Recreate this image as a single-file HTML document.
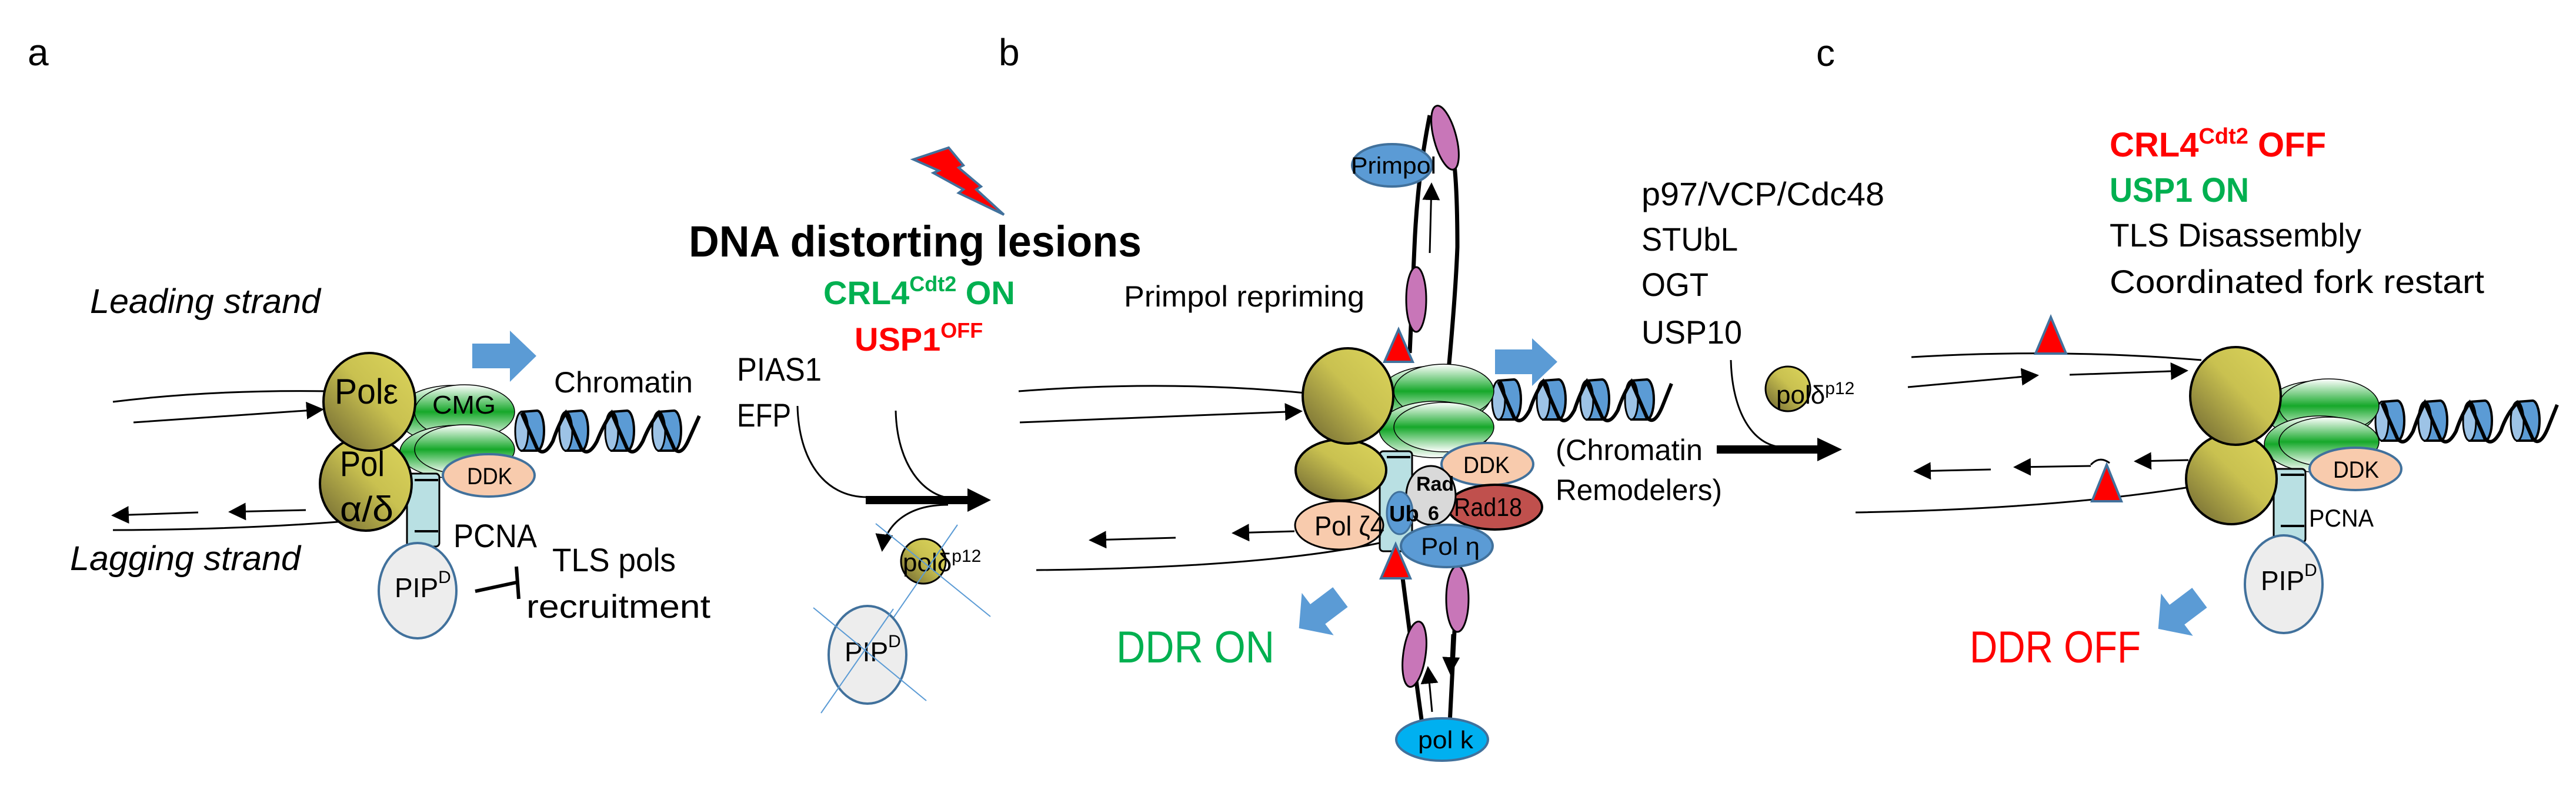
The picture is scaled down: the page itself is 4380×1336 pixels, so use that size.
<!DOCTYPE html>
<html><head><meta charset="utf-8"><style>html,body{margin:0;padding:0;background:#fff}svg{display:block}</style></head>
<body>
<svg xmlns="http://www.w3.org/2000/svg" width="4380" height="1336" viewBox="0 0 4380 1336" font-family="'Liberation Sans', sans-serif">
<defs>
<linearGradient id="ol" x1="1" y1="0" x2="0" y2="1"><stop offset="0" stop-color="#dcd55c"/><stop offset="0.45" stop-color="#c9c150"/><stop offset="1" stop-color="#6a6230"/></linearGradient>
<linearGradient id="gr" x1="0" y1="0" x2="0" y2="1"><stop offset="0" stop-color="#ffffff"/><stop offset="0.5" stop-color="#16a82a"/><stop offset="1" stop-color="#ffffff"/></linearGradient>
<marker id="ah" markerWidth="8" markerHeight="8" refX="7" refY="4" orient="auto" markerUnits="userSpaceOnUse" viewBox="0 0 8 8"><path d="M0,0 L8,4 L0,8 Z" fill="#000"/></marker>
<marker id="ahb" viewBox="0 0 10 10" refX="9" refY="5" markerWidth="30" markerHeight="30" orient="auto" markerUnits="userSpaceOnUse"><path d="M0,0 L10,5 L0,10 Z" fill="#000"/></marker>
<g id="cyl">
<path d="M-12,-33 L14,-35 A12 34 0 0 1 14,33 L-12,33 Z" fill="#5b9bd5" stroke="#000" stroke-width="4"/>
<ellipse cx="-12" cy="0" rx="11" ry="33" fill="#9dc3e6" stroke="#000" stroke-width="3"/>
</g>
<g id="bar"><path d="M-40,-21 L8,-21 L8,-45 L48,0 L8,45 L8,21 L-40,21 Z" fill="#5b9bd5"/></g>
</defs>

<!-- ============ PANEL A ============ -->
<text x="47" y="111" font-size="64">a</text>
<text x="153" y="532" font-size="58" font-style="italic" textLength="392" lengthAdjust="spacingAndGlyphs">Leading strand</text>
<text x="119" y="969" font-size="58" font-style="italic" textLength="392" lengthAdjust="spacingAndGlyphs">Lagging strand</text>
<!-- strands -->
<path d="M192,683 Q360,662 560,665" fill="none" stroke="#000" stroke-width="3"/>
<path d="M227,718 L548,696" fill="none" stroke="#000" stroke-width="3" marker-end="url(#ahb)"/>
<path d="M337,871 L192,876" fill="none" stroke="#000" stroke-width="3" marker-end="url(#ahb)"/>
<path d="M520,867 L391,870" fill="none" stroke="#000" stroke-width="3" marker-end="url(#ahb)"/>
<path d="M192,901 Q420,900 600,885" fill="none" stroke="#000" stroke-width="3"/>
<!-- helix a -->
<use href="#cyl" x="899" y="733"/><use href="#cyl" x="974" y="733"/><use href="#cyl" x="1052" y="733"/><use href="#cyl" x="1132" y="733"/>
<path d="M887,702 L913,762 Q925,778 940,750 Q950,720 962,702 L988,762 Q1000,778 1015,750 Q1027,720 1040,702 L1066,762 Q1078,778 1093,750 Q1105,720 1120,702 L1146,762 Q1158,778 1172,745 L1189,707" fill="none" stroke="#000" stroke-width="6"/>
<!-- blue arrow -->
<path d="M803,584 L867,584 L867,562 L912,605 L867,649 L867,626 L803,626 Z" fill="#5b9bd5"/>
<text x="942" y="667" font-size="50" textLength="236" lengthAdjust="spacingAndGlyphs">Chromatin</text>
<!-- CMG -->
<ellipse cx="770" cy="705" rx="95" ry="50" fill="url(#gr)" stroke="#000" stroke-width="1.5"/>
<ellipse cx="790" cy="700" rx="85" ry="46" fill="url(#gr)" stroke="#000" stroke-width="1.5"/>
<ellipse cx="775" cy="768" rx="95" ry="45" fill="url(#gr)" stroke="#000" stroke-width="1.5"/>
<ellipse cx="790" cy="764" rx="85" ry="42" fill="url(#gr)" stroke="#000" stroke-width="1.5"/>
<text x="735" y="703" font-size="44" textLength="108" lengthAdjust="spacingAndGlyphs">CMG</text>
<!-- PCNA -->
<rect x="692" y="805" width="55" height="124" rx="6" fill="#b9e0e3" stroke="#000" stroke-width="3"/>
<line x1="705" y1="816" x2="745" y2="816" stroke="#000" stroke-width="4"/>
<line x1="705" y1="903" x2="745" y2="903" stroke="#000" stroke-width="4"/>
<!-- Pols -->
<ellipse cx="622" cy="822" rx="78" ry="80" fill="url(#ol)" stroke="#000" stroke-width="4"/>
<ellipse cx="628" cy="683" rx="78" ry="83" fill="url(#ol)" stroke="#000" stroke-width="4"/>
<text x="569" y="686" font-size="60" textLength="108" lengthAdjust="spacingAndGlyphs">Polε</text>
<text x="578" y="809" font-size="60" textLength="76" lengthAdjust="spacingAndGlyphs">Pol</text>
<text x="578" y="886" font-size="60" textLength="91" lengthAdjust="spacingAndGlyphs">α/δ</text>
<ellipse cx="831" cy="808" rx="78" ry="36" fill="#f8cbad" stroke="#41719c" stroke-width="4"/>
<text x="794" y="823" font-size="40" textLength="77" lengthAdjust="spacingAndGlyphs">DDK</text>
<ellipse cx="710" cy="1004" rx="66" ry="81" fill="#ededed" stroke="#41719c" stroke-width="4"/>
<text x="671" y="1015" font-size="46">PIP<tspan font-size="30" dy="-24">D</tspan></text>
<text x="771" y="930" font-size="56" textLength="142" lengthAdjust="spacingAndGlyphs">PCNA</text>
<text x="939" y="971" font-size="56" textLength="210" lengthAdjust="spacingAndGlyphs">TLS pols</text>
<text x="895" y="1050" font-size="56" textLength="313" lengthAdjust="spacingAndGlyphs">recruitment</text>
<path d="M808,1005 L878,990" stroke="#000" stroke-width="6"/>
<path d="M878,963 L882,1018" stroke="#000" stroke-width="6"/>

<!-- ============ PANEL B ============ -->
<text x="1698" y="111" font-size="64">b</text>
<path d="M1553,271 L1613,251 L1638,281 L1630,285 L1668,317 L1660,322 L1707,365 L1630,328 L1638,322 L1587,294 L1596,290 Z" fill="#ff0000" stroke="#41719c" stroke-width="4"/>
<text x="1171" y="436" font-size="74" font-weight="bold" textLength="770" lengthAdjust="spacingAndGlyphs">DNA distorting lesions</text>
<text x="1400" y="517" font-size="56" font-weight="bold" fill="#00b050">CRL4<tspan font-size="36" dy="-22">Cdt2</tspan><tspan dy="22"> ON</tspan></text>
<text x="1453" y="596" font-size="56" font-weight="bold" fill="#ff0000">USP1<tspan font-size="36" dy="-22">OFF</tspan></text>
<text x="1253" y="647" font-size="56" textLength="144" lengthAdjust="spacingAndGlyphs">PIAS1</text>
<text x="1253" y="725" font-size="56" textLength="92" lengthAdjust="spacingAndGlyphs">EFP</text>
<path d="M1356,690 C1358,780 1400,845 1475,845" fill="none" stroke="#000" stroke-width="3"/>
<path d="M1523,698 C1525,790 1570,840 1612,846" fill="none" stroke="#000" stroke-width="3"/>
<path d="M1472,843 L1645,843 L1645,830 L1685,850 L1645,870 L1645,857 L1472,857 Z" fill="#000"/>
<path d="M1612,858 C1540,858 1505,895 1500,935" fill="none" stroke="#000" stroke-width="3" marker-end="url(#ahb)"/>
<ellipse cx="1570" cy="954" rx="38" ry="38" fill="url(#ol)" stroke="#000" stroke-width="3"/>
<text x="1535" y="971" font-size="44">polδ<tspan font-size="30" dy="-16">p12</tspan></text>
<line x1="1489" y1="890" x2="1684" y2="1048" stroke="#5b9bd5" stroke-width="2"/>
<line x1="1628" y1="892" x2="1506" y2="1069" stroke="#5b9bd5" stroke-width="2"/>
<ellipse cx="1475" cy="1113" rx="66" ry="83" fill="#ededed" stroke="#41719c" stroke-width="4"/>
<text x="1436" y="1124" font-size="46">PIP<tspan font-size="30" dy="-24">D</tspan></text>
<line x1="1383" y1="1033" x2="1575" y2="1191" stroke="#5b9bd5" stroke-width="2"/>
<line x1="1519" y1="1035" x2="1396" y2="1212" stroke="#5b9bd5" stroke-width="2"/>
<text x="1898" y="1126" font-size="76" fill="#00b050" textLength="269" lengthAdjust="spacingAndGlyphs">DDR ON</text>
<use href="#bar" transform="translate(2247,1039) rotate(143)"/>
<text x="1911" y="521" font-size="50" textLength="409" lengthAdjust="spacingAndGlyphs">Primpol repriming</text>
<!-- strands b -->
<path d="M1732,665 Q1990,645 2230,669" fill="none" stroke="#000" stroke-width="3"/>
<path d="M1734,718 L2212,699" fill="none" stroke="#000" stroke-width="3" marker-end="url(#ahb)"/>
<path d="M1999,914 L1854,918" fill="none" stroke="#000" stroke-width="3" marker-end="url(#ahb)"/>
<path d="M2201,903 L2097,906" fill="none" stroke="#000" stroke-width="3" marker-end="url(#ahb)"/>
<path d="M1762,969 Q2150,965 2350,922" fill="none" stroke="#000" stroke-width="3"/>
<!-- loops -->
<path d="M2397,600 Q2402,480 2405,420 Q2410,300 2431,196" fill="none" stroke="#000" stroke-width="7"/>
<path d="M2462,640 Q2475,500 2478,420 Q2478,330 2473,281" fill="none" stroke="#000" stroke-width="7"/>
<path d="M2431,430 L2434,313" fill="none" stroke="#000" stroke-width="3" marker-end="url(#ahb)"/>
<ellipse cx="2408" cy="509" rx="17" ry="55" fill="#c876b8" stroke="#000" stroke-width="3"/>
<ellipse cx="2457" cy="234" rx="19" ry="56" transform="rotate(-15 2457 234)" fill="#c876b8" stroke="#000" stroke-width="3"/>
<ellipse cx="2367" cy="281" rx="68" ry="36" fill="#5b9bd5" stroke="#41719c" stroke-width="4"/>
<text x="2297" y="295" font-size="40" textLength="145" lengthAdjust="spacingAndGlyphs">Primpol</text>
<path d="M2384,975 Q2400,1100 2418,1230" fill="none" stroke="#000" stroke-width="7"/>
<path d="M2478,975 Q2472,1100 2465,1230" fill="none" stroke="#000" stroke-width="7"/>
<path d="M2469,1078 L2466,1144" fill="none" stroke="#000" stroke-width="3" marker-end="url(#ahb)"/>
<path d="M2435,1210 L2428,1135" fill="none" stroke="#000" stroke-width="3" marker-end="url(#ahb)"/>
<ellipse cx="2478" cy="1018" rx="19" ry="56" fill="#c876b8" stroke="#000" stroke-width="3"/>
<ellipse cx="2405" cy="1112" rx="19" ry="56" transform="rotate(8 2405 1112)" fill="#c876b8" stroke="#000" stroke-width="3"/>
<ellipse cx="2452" cy="1257" rx="78" ry="36" fill="#00b0f0" stroke="#41719c" stroke-width="4"/>
<text x="2411" y="1272" font-size="42" textLength="94" lengthAdjust="spacingAndGlyphs">pol k</text>
<!-- helix b -->
<use href="#cyl" x="2560" y="680"/><use href="#cyl" x="2636" y="680"/><use href="#cyl" x="2710" y="680"/><use href="#cyl" x="2786" y="680"/>
<path d="M2548,649 L2574,709 Q2586,725 2601,697 Q2611,667 2624,649 L2650,709 Q2662,725 2677,697 Q2687,667 2698,649 L2724,709 Q2736,725 2751,697 Q2761,667 2774,649 L2800,709 Q2812,725 2826,692 L2842,652" fill="none" stroke="#000" stroke-width="6"/>
<path d="M2542,594 L2605,594 L2605,575 L2648,615 L2605,656 L2605,636 L2542,636 Z" fill="#5b9bd5"/>
<!-- CMG b -->
<ellipse cx="2440" cy="672" rx="95" ry="50" fill="url(#gr)" stroke="#000" stroke-width="1.5"/>
<ellipse cx="2455" cy="665" rx="85" ry="46" fill="url(#gr)" stroke="#000" stroke-width="1.5"/>
<ellipse cx="2440" cy="730" rx="95" ry="48" fill="url(#gr)" stroke="#000" stroke-width="1.5"/>
<ellipse cx="2455" cy="726" rx="85" ry="42" fill="url(#gr)" stroke="#000" stroke-width="1.5"/>
<!-- PCNA b -->
<rect x="2346" y="767" width="55" height="170" rx="6" fill="#b9e0e3" stroke="#000" stroke-width="3"/>
<line x1="2358" y1="777" x2="2398" y2="777" stroke="#000" stroke-width="4"/>
<ellipse cx="2280" cy="799" rx="77" ry="52" fill="url(#ol)" stroke="#000" stroke-width="4"/>
<ellipse cx="2292" cy="673" rx="77" ry="81" fill="url(#ol)" stroke="#000" stroke-width="4"/>
<polygon points="2378,560 2354,615 2402,615" fill="#ff0000" stroke="#41719c" stroke-width="4"/>
<ellipse cx="2277" cy="893" rx="75" ry="41" fill="#f8cbad" stroke="#000" stroke-width="3"/>
<text x="2235" y="910" font-size="46" textLength="119" lengthAdjust="spacingAndGlyphs">Pol ζ4</text>
<ellipse cx="2529" cy="789" rx="78" ry="36" fill="#f8cbad" stroke="#41719c" stroke-width="4"/>
<text x="2488" y="804" font-size="40" textLength="79" lengthAdjust="spacingAndGlyphs">DDK</text>
<ellipse cx="2542" cy="862" rx="80" ry="38" fill="#c0504d" stroke="#000" stroke-width="4"/>
<ellipse cx="2433" cy="842" rx="42" ry="50" fill="#d9d9d9" stroke="#000" stroke-width="3"/>
<text x="2408" y="834" font-size="34" font-weight="bold">Rad</text>
<text x="2428" y="884" font-size="34" font-weight="bold">6</text>
<text x="2472" y="877" font-size="44" textLength="116" lengthAdjust="spacingAndGlyphs">Rad18</text>
<ellipse cx="2380" cy="872" rx="22" ry="36" fill="#5b9bd5" stroke="#41719c" stroke-width="3"/>
<text x="2362" y="886" font-size="38" font-weight="bold">Ub</text>
<ellipse cx="2460" cy="928" rx="78" ry="36" fill="#5b9bd5" stroke="#41719c" stroke-width="4"/>
<text x="2416" y="943" font-size="42" textLength="100" lengthAdjust="spacingAndGlyphs">Pol η</text>
<polygon points="2373,925 2348,983 2398,983" fill="#ff0000" stroke="#41719c" stroke-width="4"/>
<text x="2645" y="782" font-size="50" textLength="250" lengthAdjust="spacingAndGlyphs">(Chromatin</text>
<text x="2645" y="850" font-size="50" textLength="283" lengthAdjust="spacingAndGlyphs">Remodelers)</text>

<!-- ============ middle text ============ -->
<text x="2791" y="349" font-size="56" textLength="413" lengthAdjust="spacingAndGlyphs">p97/VCP/Cdc48</text>
<text x="2791" y="426" font-size="56" textLength="164" lengthAdjust="spacingAndGlyphs">STUbL</text>
<text x="2791" y="503" font-size="56" textLength="114" lengthAdjust="spacingAndGlyphs">OGT</text>
<text x="2791" y="584" font-size="56" textLength="171" lengthAdjust="spacingAndGlyphs">USP10</text>
<path d="M2943,612 C2945,700 2980,757 3030,760" fill="none" stroke="#000" stroke-width="3"/>
<path d="M2919,757 L3090,757 L3090,744 L3132,764 L3090,784 L3090,771 L2919,771 Z" fill="#000"/>
<ellipse cx="3040" cy="661" rx="38" ry="38" fill="url(#ol)" stroke="#000" stroke-width="3"/>
<text x="3020" y="686" font-size="44">polδ<tspan font-size="30" dy="-16">p12</tspan></text>

<!-- ============ PANEL C ============ -->
<text x="3088" y="112" font-size="64">c</text>
<text x="3587" y="266" font-size="58" font-weight="bold" fill="#ff0000">CRL4<tspan font-size="38" dy="-22">Cdt2</tspan><tspan dy="22"> OFF</tspan></text>
<text x="3587" y="343" font-size="58" font-weight="bold" fill="#00b050" textLength="237" lengthAdjust="spacingAndGlyphs">USP1 ON</text>
<text x="3587" y="419" font-size="56" textLength="428" lengthAdjust="spacingAndGlyphs">TLS Disassembly</text>
<text x="3587" y="498" font-size="56" textLength="637" lengthAdjust="spacingAndGlyphs">Coordinated fork restart</text>
<path d="M3250,607 Q3500,592 3743,612" fill="none" stroke="#000" stroke-width="3"/>
<path d="M3244,658 L3464,638" fill="none" stroke="#000" stroke-width="3" marker-end="url(#ahb)"/>
<path d="M3519,637 L3718,630" fill="none" stroke="#000" stroke-width="3" marker-end="url(#ahb)"/>
<path d="M3385,798 L3256,801" fill="none" stroke="#000" stroke-width="3" marker-end="url(#ahb)"/>
<path d="M3555,792 L3426,794" fill="none" stroke="#000" stroke-width="3" marker-end="url(#ahb)"/>
<path d="M3555,790 Q3570,774 3587,787" fill="none" stroke="#000" stroke-width="3"/>
<path d="M3721,782 L3631,784" fill="none" stroke="#000" stroke-width="3" marker-end="url(#ahb)"/>
<path d="M3155,871 Q3500,865 3735,826" fill="none" stroke="#000" stroke-width="3"/>
<polygon points="3487,539 3461,601 3513,601" fill="#ff0000" stroke="#41719c" stroke-width="4"/>
<polygon points="3582,790 3557,852 3607,852" fill="#ff0000" stroke="#41719c" stroke-width="4"/>
<!-- helix c -->
<use href="#cyl" x="4062" y="716"/><use href="#cyl" x="4135" y="716"/><use href="#cyl" x="4211" y="716"/><use href="#cyl" x="4292" y="716"/>
<path d="M4050,685 L4076,745 Q4088,761 4103,733 Q4113,703 4123,685 L4149,745 Q4161,761 4176,733 Q4186,703 4199,685 L4225,745 Q4237,761 4252,733 Q4262,703 4280,685 L4306,745 Q4318,761 4332,728 L4348,688" fill="none" stroke="#000" stroke-width="6"/>
<ellipse cx="3945" cy="697" rx="95" ry="50" fill="url(#gr)" stroke="#000" stroke-width="1.5"/>
<ellipse cx="3960" cy="690" rx="85" ry="46" fill="url(#gr)" stroke="#000" stroke-width="1.5"/>
<ellipse cx="3945" cy="755" rx="95" ry="48" fill="url(#gr)" stroke="#000" stroke-width="1.5"/>
<ellipse cx="3960" cy="751" rx="85" ry="42" fill="url(#gr)" stroke="#000" stroke-width="1.5"/>
<rect x="3866" y="797" width="54" height="125" rx="6" fill="#b9e0e3" stroke="#000" stroke-width="3"/>
<line x1="3878" y1="807" x2="3918" y2="807" stroke="#000" stroke-width="4"/>
<line x1="3878" y1="894" x2="3918" y2="894" stroke="#000" stroke-width="4"/>
<ellipse cx="3794" cy="814" rx="77" ry="77" fill="url(#ol)" stroke="#000" stroke-width="4"/>
<ellipse cx="3801" cy="673" rx="77" ry="83" fill="url(#ol)" stroke="#000" stroke-width="4"/>
<ellipse cx="4005" cy="797" rx="78" ry="36" fill="#f8cbad" stroke="#41719c" stroke-width="4"/>
<text x="3967" y="812" font-size="40" textLength="78" lengthAdjust="spacingAndGlyphs">DDK</text>
<text x="3926" y="895" font-size="42" textLength="110" lengthAdjust="spacingAndGlyphs">PCNA</text>
<ellipse cx="3883" cy="993" rx="66" ry="83" fill="#ededed" stroke="#41719c" stroke-width="4"/>
<text x="3844" y="1003" font-size="46">PIP<tspan font-size="30" dy="-24">D</tspan></text>
<use href="#bar" transform="translate(3708,1040) rotate(143)"/>
<text x="3349" y="1126" font-size="76" fill="#ff0000" textLength="291" lengthAdjust="spacingAndGlyphs">DDR OFF</text>
</svg>
</body></html>
